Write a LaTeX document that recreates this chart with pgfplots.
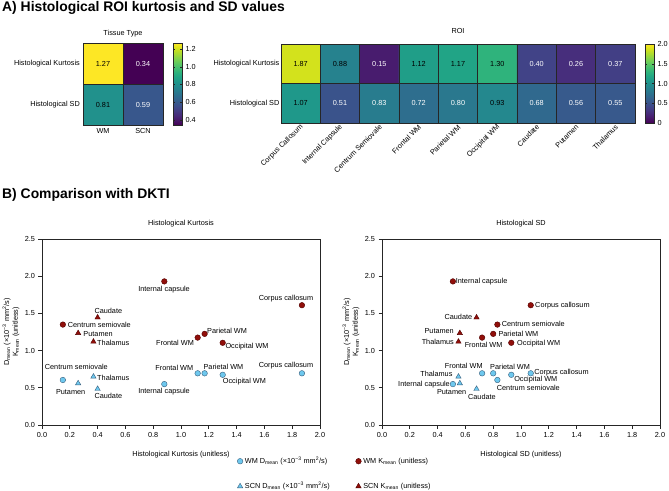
\documentclass[border=0pt]{standalone}
\usepackage{pgfplots}
\pgfplotsset{compat=1.18}
\usepackage{pgfplotstable}
\usepackage{fontspec}
\setmainfont{Liberation Sans}
\newcommand\lab{\fontsize{7.3}{8.7}\selectfont}
\newcommand\bigtitle{\fontsize{13.9}{16}\selectfont\bfseries}
\definecolor{wmblue}{RGB}{110,200,238}
\definecolor{blueedge}{RGB}{55,95,125}
\definecolor{kred}{RGB}{145,15,10}
\definecolor{rededge}{RGB}{80,0,0}

% w = 1: dark text, w = 0: white text
\pgfplotstableread{
x y c w
0 0 0.81 1
1 0 0.59 0
0 1 1.27 1
1 1 0.34 0
}\tissue

\pgfplotstableread{
x y c w
0 0 1.07 1
1 0 0.51 0
2 0 0.83 0
3 0 0.72 0
4 0 0.80 0
5 0 0.93 1
6 0 0.68 0
7 0 0.56 0
8 0 0.55 0
0 1 1.87 1
1 1 0.88 1
2 1 0.15 0
3 1 1.12 1
4 1 1.17 1
5 1 1.30 1
6 1 0.40 0
7 1 0.26 0
8 1 0.37 0
}\roi

% WM regions: CC, IC, CS, FWM, PWM, OWM
\pgfplotstableread{
region kurt sd d k
CC 1.87 1.07 0.695 1.61
IC 0.88 0.51 0.55 1.93
CS 0.15 0.83 0.605 1.35
FWM 1.12 0.72 0.695 1.175
PWM 1.17 0.80 0.695 1.225
OWM 1.30 0.93 0.675 1.105
}\wm
% SCN regions: Caudate, Putamen, Thalamus
\pgfplotstableread{
region kurt sd d k
Caudate 0.40 0.68 0.485 1.445
Putamen 0.26 0.56 0.56 1.235
Thalamus 0.37 0.55 0.65 1.12
}\scn

\newcommand\lbl[4]{\node[anchor=#1, inner sep=0pt, font=\lab] at (axis cs:#2,#3) {#4};}

\pgfplotsset{
  heat/.style={
    scale only axis,
    major tick length=0pt, minor tick length=0pt,
    xminorgrids, yminorgrids,
    minor grid style={black!85, line width=0.8pt},
    axis line style={black!85, line width=0.8pt},
    axis on top,
    colormap/viridis,
    tick label style={font=\lab},
    title style={font=\lab, at={(0.5,1)}, anchor=base},
    ytick={0,1}, yticklabels={Histological SD, Histological Kurtosis},
  },
  cbar/.style={
    scale only axis, width=9pt,
    axis line style={black!85, line width=0.6pt},
    major tick length=2pt,
    every tick/.style={black!85},
    tick label style={font=\lab},
    /pgf/number format/assume math mode=true,
  },
  scat/.style={
    scale only axis, width=278pt, height=186pt,
    xmin=0, xmax=2, ymin=0, ymax=2.5,
    xtick={0,0.2,0.4,0.6,0.8,1,1.2,1.4,1.6,1.8,2},
    ytick={0,0.5,1,1.5,2,2.5},
    tick align=outside, tick pos=left, major tick length=3.5pt,
    axis line style={black!85, line width=0.8pt},
    every tick/.style={black!85, line width=0.8pt},
    tick label style={font=\lab},
    /pgf/number format/assume math mode=true,
    xticklabel style={/pgf/number format/.cd, fixed, fixed zerofill, precision=1},
    yticklabel style={/pgf/number format/.cd, fixed, fixed zerofill, precision=1},
    title style={font=\lab, at={(0.5,1)}, anchor=base, yshift=8pt},
    every axis x label/.style={at={(axis description cs:0.5,0)}, anchor=base, yshift=-31pt, font=\lab},
    every axis y label/.style={at={(axis description cs:-0.112,0.5)}, rotate=90, anchor=center, align=center, font=\lab},
    ylabel={D\textsubscript{mean} (×10\textsuperscript{−3} mm\textsuperscript{2}/s)\\K\textsubscript{mean} (unitless)},
    clip=false,
  },
  wmd/.style={only marks, mark=*, mark size=2.8pt, mark options={fill=wmblue, draw=blueedge, line width=0.4pt}},
  wmk/.style={only marks, mark=*, mark size=2.8pt, mark options={fill=kred, draw=rededge, line width=0.4pt}},
  scnd/.style={only marks, mark=triangle*, mark size=3.1pt, mark options={fill=wmblue, draw=blueedge, line width=0.4pt}},
  scnk/.style={only marks, mark=triangle*, mark size=3.1pt, mark options={fill=kred, draw=rededge, line width=0.4pt}},
  celltext/.style={only marks, mark=none, point meta=explicit,
    unbounded coords=discard,
    nodes near coords={\pgfmathprintnumber[fixed,fixed zerofill,precision=2,assume math mode=true]{\pgfplotspointmeta}},
    nodes near coords style={anchor=center, text=#1, font=\lab, inner sep=0pt}},
  darktext/.style={celltext=black, y filter/.expression={\thisrow{w}>0.5 ? y : nan}},
  lighttext/.style={celltext=white, y filter/.expression={\thisrow{w}<0.5 ? y : nan}},
}

\begin{document}
\begin{tikzpicture}
\path[use as bounding box] (0pt,0pt) rectangle (669pt,-490pt);

\node[anchor=base west, inner sep=0pt, font=\bigtitle] at (2pt,-11pt) {A) Histological ROI kurtosis and SD values};
\node[anchor=base west, inner sep=0pt, font=\bigtitle] at (2pt,-198.5pt) {B) Comparison with DKTI};

% ---------- Heatmap: tissue type ----------
\begin{axis}[heat,
  at={(83pt,-43pt)}, anchor=north west, width=80pt, height=82pt,
  xmin=-0.5, xmax=1.5, ymin=-0.5, ymax=1.5,
  xtick={0,1}, xticklabels={WM,SCN},
  minor xtick={0.5}, minor ytick={0.5},
  yticklabel style={inner sep=3pt},
  xticklabel style={inner sep=3pt},
  title={Tissue Type}, title style={yshift=2pt},
  point meta min=0.34, point meta max=1.27,
  colorbar,
  colorbar style={cbar, at={(parent axis.north east)}, anchor=north west, xshift=1.5pt, height=82pt,
    ytick={0.4,0.6,0.8,1.0,1.2}, yticklabels={0.4,0.6,0.8,1.0,1.2}},
]
\addplot[matrix plot*, mesh/cols=2, point meta=explicit] table[x=x, y=y, meta=c] {\tissue};
\addplot[darktext] table[x=x, y=y, meta=c] {\tissue};
\addplot[lighttext] table[x=x, y=y, meta=c] {\tissue};
\end{axis}

% ---------- Heatmap: ROI ----------
\begin{axis}[heat,
  at={(281pt,-44pt)}, anchor=north west, width=354pt, height=79pt,
  xmin=-0.5, xmax=8.5, ymin=-0.5, ymax=1.5,
  xtick={0,1,2,3,4,5,6,7,8},
  xticklabels={Corpus Callosum, Internal Capsule, Centrum Semiovale, Frontal WM, Parietal WM, Occipital WM, Caudate, Putamen, Thalamus},
  xticklabel style={rotate=45, anchor=east, inner sep=1pt, yshift=-3pt},
  yticklabel style={inner sep=1.5pt},
  minor xtick={0.5,1.5,2.5,3.5,4.5,5.5,6.5,7.5}, minor ytick={0.5},
  title={ROI}, title style={yshift=4.5pt},
  point meta min=0, point meta max=2,
  colorbar,
  colorbar style={cbar, at={(parent axis.north east)}, anchor=north west, xshift=1.5pt, height=79pt,
    ytick={0,0.5,1,1.5,2}, yticklabels={0,0.5,1.0,1.5,2.0}},
]
\addplot[matrix plot*, mesh/cols=9, point meta=explicit] table[x=x, y=y, meta=c] {\roi};
\addplot[darktext] table[x=x, y=y, meta=c] {\roi};
\addplot[lighttext] table[x=x, y=y, meta=c] {\roi};
\end{axis}

% ---------- Scatter: Histological Kurtosis ----------
\begin{axis}[scat,
  at={(42pt,-239pt)}, anchor=north west,
  title={Histological Kurtosis},
  xlabel={Histological Kurtosis (unitless)},
  legend columns=2,
  legend cell align=left,
  legend style={at={(axis description cs:0.691,-0.1505)}, anchor=north west, draw=none, fill=none,
    font=\lab, row sep=13pt, /tikz/every even column/.append style={column sep=24pt}},
]
\addplot[wmd] table[x=kurt, y=d] {\wm};
\addlegendentry{WM D\textsubscript{mean} (×10\textsuperscript{−3} mm\textsuperscript{2}/s)}
\addplot[wmk] table[x=kurt, y=k] {\wm};
\addlegendentry{WM K\textsubscript{mean} (unitless)}
\addplot[scnd] table[x=kurt, y=d] {\scn};
\addlegendentry{SCN D\textsubscript{mean} (×10\textsuperscript{−3} mm\textsuperscript{2}/s)}
\addplot[scnk] table[x=kurt, y=k] {\scn};
\addlegendentry{SCN K\textsubscript{mean} (unitless)}
% K labels
\lbl{center}{0.878}{1.826}{Internal capsule}
\lbl{east}{1.952}{1.705}{Corpus callosum}
\lbl{center}{0.477}{1.538}{Caudate}
\lbl{west}{0.185}{1.342}{Centrum semiovale}
\lbl{west}{0.297}{1.225}{Putamen}
\lbl{west}{0.396}{1.099}{Thalamus}
\lbl{west}{1.187}{1.265}{Parietal WM}
\lbl{east}{1.094}{1.099}{Frontal WM}
\lbl{west}{1.319}{1.054}{Occipital WM}
% D labels
\lbl{center}{0.247}{0.785}{Centrum semiovale}
\lbl{west}{0.396}{0.633}{Thalamus}
\lbl{center}{0.206}{0.444}{Putamen}
\lbl{center}{0.477}{0.390}{Caudate}
\lbl{center}{0.878}{0.444}{Internal capsule}
\lbl{east}{1.089}{0.771}{Frontal WM}
\lbl{west}{1.161}{0.785}{Parietal WM}
\lbl{west}{1.300}{0.588}{Occipital WM}
\lbl{east}{1.952}{0.794}{Corpus callosum}
\end{axis}

% ---------- Scatter: Histological SD ----------
\begin{axis}[scat,
  at={(382pt,-239pt)}, anchor=north west,
  title={Histological SD},
  xlabel={Histological SD (unitless)},
]
\addplot[wmd] table[x=sd, y=d] {\wm};
\addplot[wmk] table[x=sd, y=k] {\wm};
\addplot[scnd] table[x=sd, y=d] {\scn};
\addplot[scnk] table[x=sd, y=k] {\scn};
% K labels
\lbl{west}{0.530}{1.925}{Internal capsule}
\lbl{west}{1.101}{1.606}{Corpus callosum}
\lbl{east}{0.650}{1.458}{Caudate}
\lbl{west}{0.861}{1.364}{Centrum semiovale}
\lbl{east}{0.518}{1.265}{Putamen}
\lbl{west}{0.837}{1.225}{Parietal WM}
\lbl{east}{0.518}{1.113}{Thalamus}
\lbl{center}{0.731}{1.077}{Frontal WM}
\lbl{west}{0.971}{1.099}{Occipital WM}
% D labels
\lbl{center}{0.588}{0.794}{Frontal WM}
\lbl{center}{0.921}{0.785}{Parietal WM}
\lbl{west}{1.094}{0.709}{Corpus callosum}
\lbl{east}{0.508}{0.686}{Thalamus}
\lbl{west}{0.950}{0.606}{Occipital WM}
\lbl{east}{0.489}{0.547}{Internal capsule}
\lbl{west}{0.825}{0.502}{Centrum semiovale}
\lbl{center}{0.501}{0.449}{Putamen}
\lbl{center}{0.719}{0.381}{Caudate}
\end{axis}
\end{tikzpicture}
\end{document}
